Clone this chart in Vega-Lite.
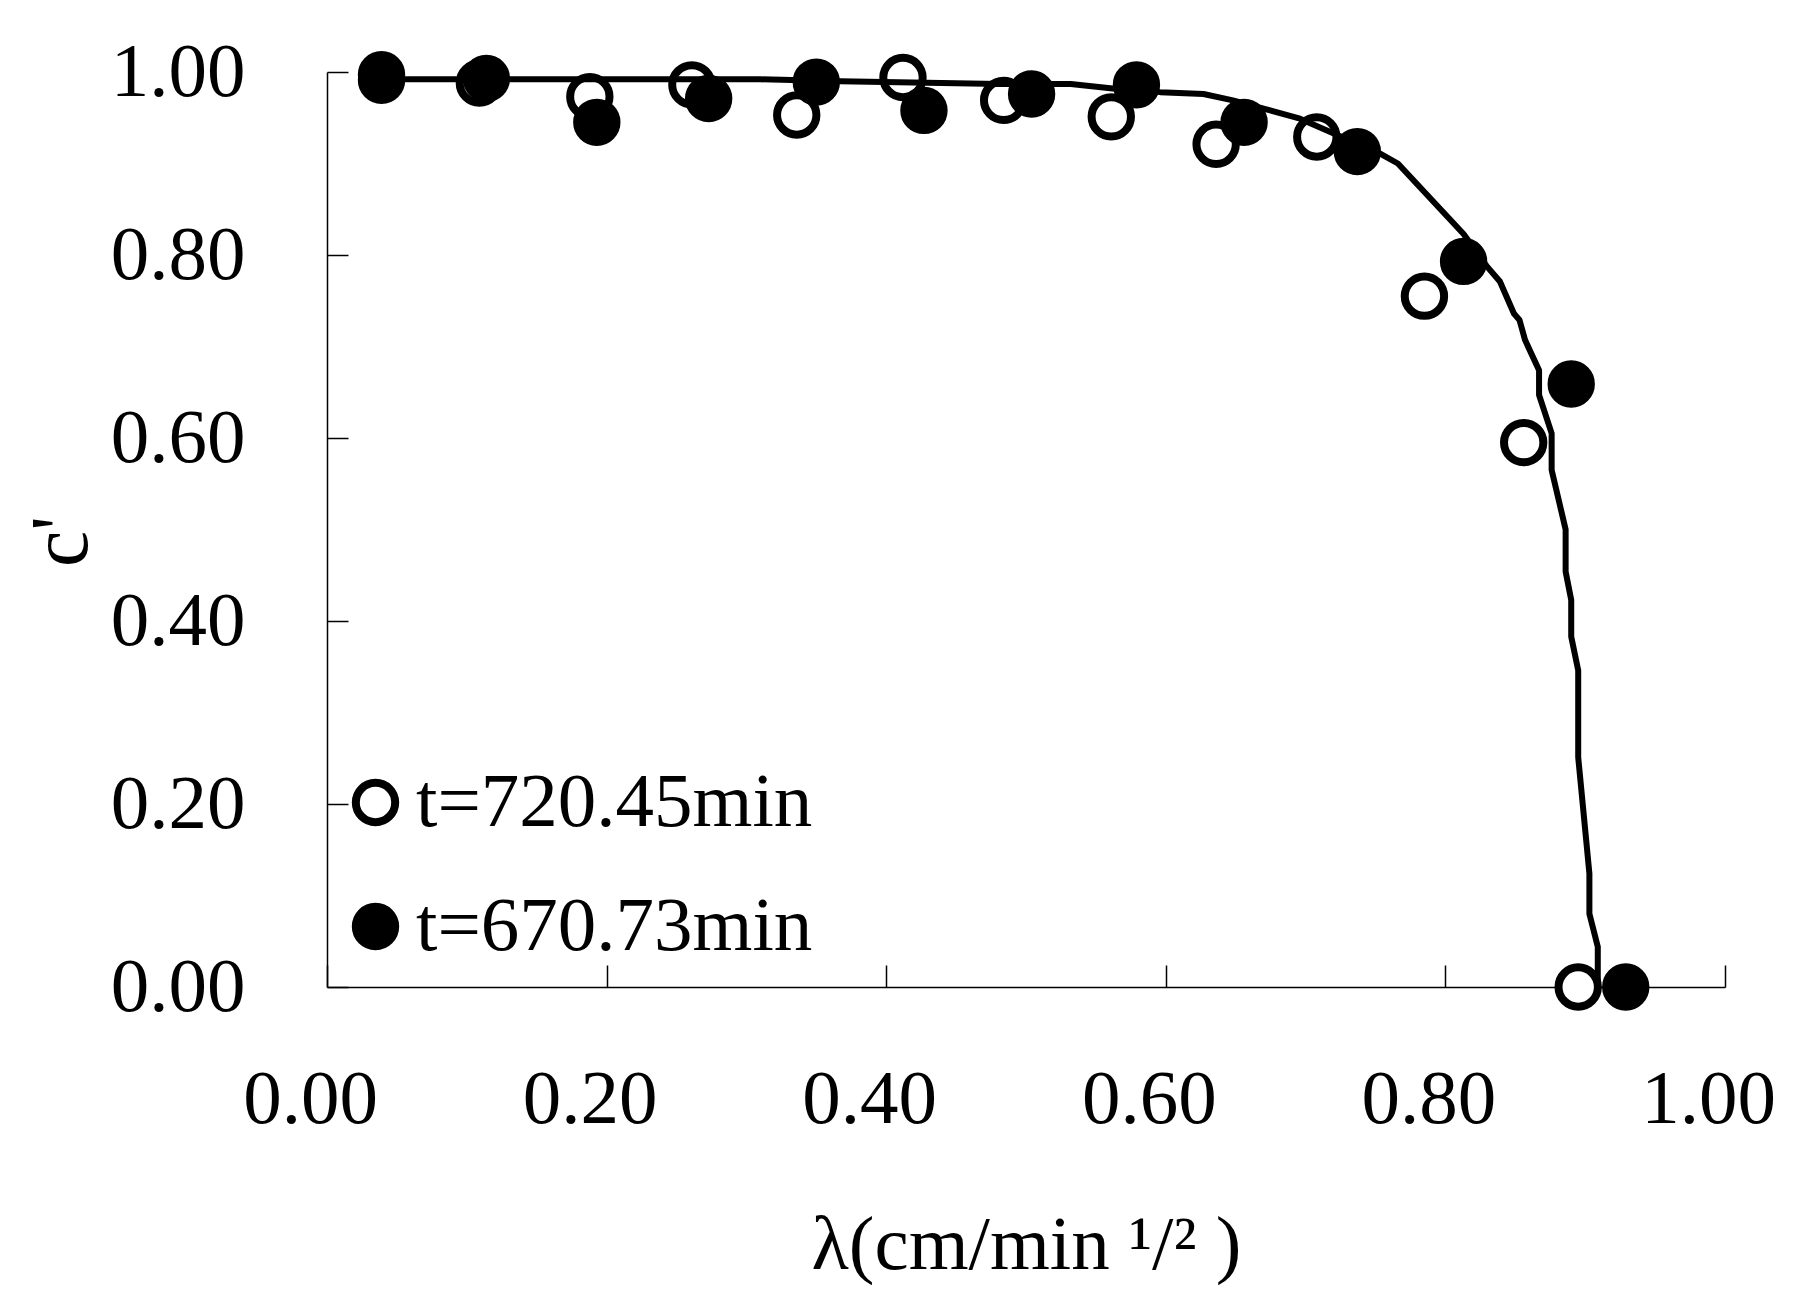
{
  "$schema": "https://vega.github.io/schema/vega-lite/v6.json",
  "width": 1398,
  "height": 915,
  "autosize": "none",
  "padding": {"left": 327, "top": 72, "right": 80, "bottom": 322},
  "background": "white",
  "config": {
    "view": {"stroke": null},
    "font": "Liberation Serif",
    "axis": {
      "grid": false,
      "domainColor": "black",
      "domainWidth": 1.5,
      "tickColor": "black",
      "tickWidth": 1.5,
      "labelFont": "Liberation Serif",
      "labelFontSize": 77,
      "labelColor": "black",
      "labelFlush": false,
      "titleFont": "Liberation Serif",
      "titleFontSize": 77,
      "titleFontWeight": "normal",
      "titleColor": "black"
    },
    "legend": {
      "labelFont": "Liberation Serif",
      "labelFontSize": 77,
      "labelColor": "black",
      "labelLimit": 0
    }
  },
  "data": {
    "values": [
      {"series": "t=720.45min", "lam": 0.039, "c": 0.997},
      {"series": "t=720.45min", "lam": 0.109, "c": 0.988},
      {"series": "t=720.45min", "lam": 0.188, "c": 0.973},
      {"series": "t=720.45min", "lam": 0.261, "c": 0.986},
      {"series": "t=720.45min", "lam": 0.336, "c": 0.953},
      {"series": "t=720.45min", "lam": 0.412, "c": 0.994},
      {"series": "t=720.45min", "lam": 0.484, "c": 0.969},
      {"series": "t=720.45min", "lam": 0.561, "c": 0.951},
      {"series": "t=720.45min", "lam": 0.636, "c": 0.921},
      {"series": "t=720.45min", "lam": 0.708, "c": 0.929},
      {"series": "t=720.45min", "lam": 0.785, "c": 0.755},
      {"series": "t=720.45min", "lam": 0.856, "c": 0.595},
      {"series": "t=720.45min", "lam": 0.895, "c": 0.0},
      {"series": "t=670.73min", "lam": 0.039, "c": 0.991},
      {"series": "t=670.73min", "lam": 0.114, "c": 0.993},
      {"series": "t=670.73min", "lam": 0.193, "c": 0.945},
      {"series": "t=670.73min", "lam": 0.273, "c": 0.971},
      {"series": "t=670.73min", "lam": 0.350, "c": 0.989},
      {"series": "t=670.73min", "lam": 0.427, "c": 0.958},
      {"series": "t=670.73min", "lam": 0.504, "c": 0.976},
      {"series": "t=670.73min", "lam": 0.579, "c": 0.986},
      {"series": "t=670.73min", "lam": 0.656, "c": 0.945},
      {"series": "t=670.73min", "lam": 0.737, "c": 0.913},
      {"series": "t=670.73min", "lam": 0.813, "c": 0.793},
      {"series": "t=670.73min", "lam": 0.890, "c": 0.659},
      {"series": "t=670.73min", "lam": 0.929, "c": 0.0},
      {"series": "model", "k": 1, "lam": 0.039, "c": 0.992},
      {"series": "model", "k": 2, "lam": 0.310, "c": 0.992},
      {"series": "model", "k": 3, "lam": 0.367, "c": 0.990},
      {"series": "model", "k": 4, "lam": 0.481, "c": 0.987},
      {"series": "model", "k": 5, "lam": 0.532, "c": 0.987},
      {"series": "model", "k": 6, "lam": 0.562, "c": 0.982},
      {"series": "model", "k": 7, "lam": 0.596, "c": 0.978},
      {"series": "model", "k": 8, "lam": 0.627, "c": 0.976},
      {"series": "model", "k": 9, "lam": 0.648, "c": 0.969},
      {"series": "model", "k": 10, "lam": 0.670, "c": 0.960},
      {"series": "model", "k": 11, "lam": 0.696, "c": 0.949},
      {"series": "model", "k": 12, "lam": 0.753, "c": 0.911},
      {"series": "model", "k": 13, "lam": 0.766, "c": 0.900},
      {"series": "model", "k": 14, "lam": 0.813, "c": 0.823},
      {"series": "model", "k": 15, "lam": 0.830, "c": 0.787},
      {"series": "model", "k": 16, "lam": 0.839, "c": 0.771},
      {"series": "model", "k": 17, "lam": 0.849, "c": 0.736},
      {"series": "model", "k": 18, "lam": 0.853, "c": 0.729},
      {"series": "model", "k": 19, "lam": 0.857, "c": 0.707},
      {"series": "model", "k": 20, "lam": 0.867, "c": 0.674},
      {"series": "model", "k": 21, "lam": 0.867, "c": 0.647},
      {"series": "model", "k": 22, "lam": 0.876, "c": 0.605},
      {"series": "model", "k": 23, "lam": 0.876, "c": 0.565},
      {"series": "model", "k": 24, "lam": 0.886, "c": 0.500},
      {"series": "model", "k": 25, "lam": 0.886, "c": 0.454},
      {"series": "model", "k": 26, "lam": 0.890, "c": 0.423},
      {"series": "model", "k": 27, "lam": 0.890, "c": 0.383},
      {"series": "model", "k": 28, "lam": 0.895, "c": 0.346},
      {"series": "model", "k": 29, "lam": 0.895, "c": 0.251},
      {"series": "model", "k": 30, "lam": 0.903, "c": 0.124},
      {"series": "model", "k": 31, "lam": 0.903, "c": 0.080},
      {"series": "model", "k": 32, "lam": 0.909, "c": 0.044},
      {"series": "model", "k": 33, "lam": 0.909, "c": 0.0}
    ]
  },
  "encoding": {
    "x": {
      "field": "lam",
      "type": "quantitative",
      "scale": {"domain": [0, 1], "nice": false, "zero": false},
      "axis": {
        "values": [0, 0.2, 0.4, 0.6, 0.8, 1.0],
        "format": ".2f",
        "tickSize": -22,
        "labelPadding": 96,
        "labelOffset": -17,
        "title": "λ(cm/min ¹/² )",
        "titleY": 220
      }
    },
    "y": {
      "field": "c",
      "type": "quantitative",
      "scale": {"domain": [0, 1], "nice": false, "zero": false},
      "axis": {
        "values": [0, 0.2, 0.4, 0.6, 0.8, 1.0],
        "format": ".2f",
        "tickSize": -21,
        "labelPadding": 103,
        "title": "c'",
        "titleFontSize": 82,
        "titleX": -224,
        "titleY": 469
      }
    }
  },
  "layer": [
    {
      "transform": [{"filter": "datum.series == 't=720.45min'"}],
      "mark": {"type": "point", "shape": "circle", "filled": true, "size": 1550, "stroke": "black", "strokeWidth": 8, "opacity": 1, "clip": false},
      "encoding": {
        "fill": {
          "field": "series",
          "type": "nominal",
          "scale": {"domain": ["t=720.45min", "t=670.73min"], "range": ["white", "black"]},
          "legend": {
            "title": null,
            "orient": "none",
            "legendX": 10,
            "legendY": 692,
            "padding": 0,
            "symbolType": "circle",
            "symbolSize": 1550,
            "symbolStrokeColor": "black",
            "symbolStrokeWidth": 8,
            "symbolOpacity": 1,
            "labelOffset": 2,
            "rowPadding": 46
          }
        }
      }
    },
    {
      "transform": [{"filter": "datum.series == 'model'"}],
      "mark": {"type": "line", "color": "black", "strokeWidth": 6, "strokeJoin": "round"},
      "encoding": {
        "order": {"field": "k", "type": "quantitative"}
      }
    },
    {
      "transform": [{"filter": "datum.series == 't=670.73min'"}],
      "mark": {"type": "point", "shape": "circle", "filled": true, "size": 1550, "stroke": "black", "strokeWidth": 8, "opacity": 1, "clip": false},
      "encoding": {
        "fill": {
          "field": "series",
          "type": "nominal",
          "scale": {"domain": ["t=720.45min", "t=670.73min"], "range": ["white", "black"]}
        }
      }
    }
  ]
}
